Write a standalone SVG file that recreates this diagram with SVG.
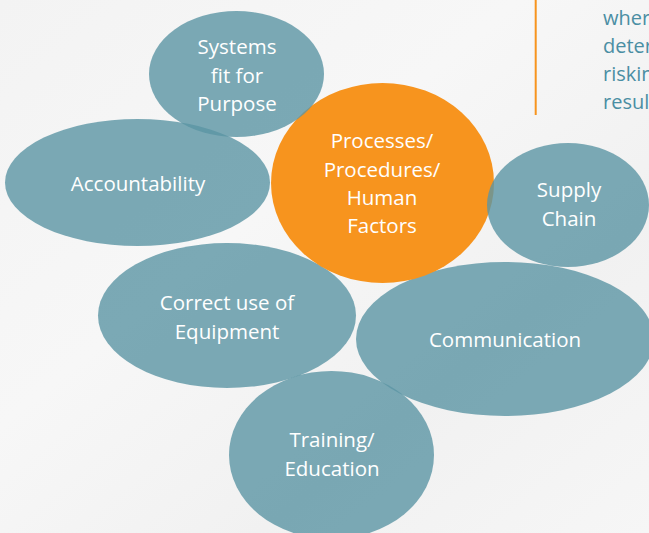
<svg xmlns="http://www.w3.org/2000/svg" width="649" height="533" viewBox="0 0 649 533">
<defs>
<linearGradient id="bg" x1="0" y1="0" x2="1" y2="1">
<stop offset="0" stop-color="#f3f3f3"/>
<stop offset="0.4" stop-color="#f7f7f7"/>
<stop offset="0.7" stop-color="#f1f1f1"/>
<stop offset="1" stop-color="#f6f6f6"/>
</linearGradient>
<style>
.blue{fill:#5b95a4;fill-opacity:0.8}
.orange{fill:#f7941e}
.lbl{font-family:"Open Sans","Liberation Sans",sans-serif;font-size:20.5px;fill:#ffffff;text-anchor:middle}
.side{font-family:"Open Sans","Liberation Sans",sans-serif;font-size:20px;fill:#4a8ea3}
</style>
</defs>
<rect width="649" height="533" fill="url(#bg)"/>
<line x1="535.7" y1="0" x2="535.7" y2="115" stroke="#f7941e" stroke-width="2"/>
<text class="side"><tspan x="603" y="25">wher</tspan><tspan x="603" y="53">deter</tspan><tspan x="603" y="81">riskin</tspan><tspan x="603" y="109">resul</tspan></text>
<g id="communication"><ellipse class="blue" cx="505" cy="339" rx="149" ry="77"/><text class="lbl" x="505" y="347">Communication</text></g>
<g id="correct-use"><ellipse class="blue" cx="227" cy="315.5" rx="129" ry="72.5"/><text class="lbl"><tspan x="227" y="310">Correct use of</tspan><tspan x="227" y="339">Equipment</tspan></text></g>
<g id="training"><ellipse class="blue" cx="331.5" cy="455" rx="102.5" ry="84"/><text class="lbl"><tspan x="332" y="447">Training/</tspan><tspan x="332" y="476">Education</tspan></text></g>
<g id="accountability"><ellipse class="blue" cx="137.5" cy="182.5" rx="132.5" ry="63.5"/><text class="lbl" x="138" y="191">Accountability</text></g>
<g id="processes"><ellipse class="orange" cx="382.5" cy="183" rx="111.5" ry="100"/><text class="lbl"><tspan x="382" y="148">Processes/</tspan><tspan x="382" y="177">Procedures/</tspan><tspan x="382" y="205">Human</tspan><tspan x="382" y="233">Factors</tspan></text></g>
<g id="systems"><ellipse class="blue" cx="236.5" cy="74" rx="87.5" ry="63"/><text class="lbl"><tspan x="237" y="54">Systems</tspan><tspan x="237" y="83">fit for</tspan><tspan x="237" y="111">Purpose</tspan></text></g>
<g id="supply-chain"><ellipse class="blue" cx="568" cy="205" rx="81" ry="62"/><text class="lbl"><tspan x="569" y="197">Supply</tspan><tspan x="569" y="226">Chain</tspan></text></g>
<g id="connectors"/>
</svg>
